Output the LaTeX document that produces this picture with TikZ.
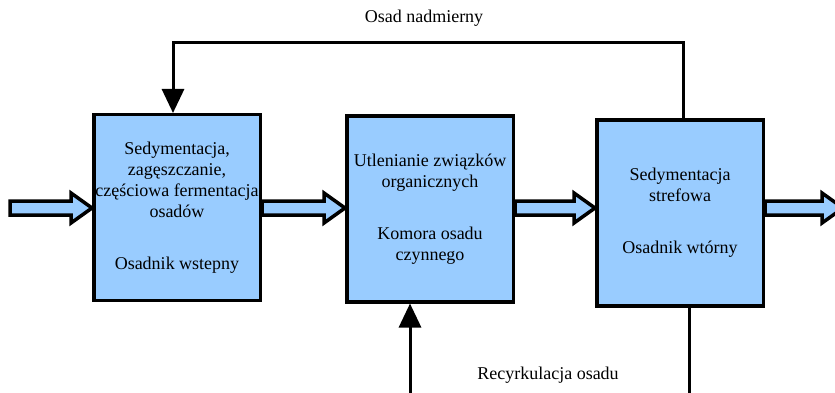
\documentclass[tikz,border=0pt]{standalone}
\usepackage{fontspec}
\setmainfont{Liberation Serif}
\usetikzlibrary{calc,arrows.meta}
\definecolor{boxblue}{RGB}{153,204,255}
\tikzset{
  procbox/.style={draw=black, line width=3.5pt, fill=boxblue, minimum width=166.5pt, minimum height=185.5pt,
    inner sep=0pt, align=center, font=\fontsize{18}{21}\selectfont},
  flowline/.style={draw=black, line width=3pt, -{Triangle[length=24pt,width=22pt]}},
  blockarrow/.style={draw=black, line width=3.5pt, fill=boxblue, line join=miter},
  lbl/.style={font=\fontsize{18}{21}\selectfont, inner sep=0pt}
}
\newcommand{\blockarr}[2]{%
  \path[blockarrow] ($(#1)+(0,-7)$) -- ($(#2)+(-21,-7)$) -- ($(#2)+(-21,-15)$) -- (#2)
     -- ($(#2)+(-21,15)$) -- ($(#2)+(-21,7)$) -- ($(#1)+(0,7)$) -- cycle;}
\begin{document}
\begin{tikzpicture}[x=1pt,y=-1pt]
\useasboundingbox (0,0) rectangle (835,393);
\node[procbox] (b1) at (177,207.5) {Sedymentacja,\\zagęszczanie,\\częściowa fermentacja\\osadów\\[31pt]Osadnik wstepny};
\node[procbox] (b2) at (430,209) {Utlenianie związków\\organicznych\\[31pt]Komora osadu\\czynnego};
\node[procbox] (b3) at (680,213) {Sedymentacja\\strefowa\\[31pt]Osadnik wtórny};
% block arrows
\coordinate (in) at (10,208);
\coordinate (b1w) at (b1.west |- in);
\coordinate (b1e) at (b1.east |- in);
\coordinate (b2w) at (b2.west |- in);
\coordinate (b2e) at (b2.east |- in);
\coordinate (b3w) at (b3.west |- in);
\coordinate (b3e) at (b3.east |- in);
\coordinate (out) at (843,208);
\blockarr{in}{b1w}
\blockarr{b1e}{b2w}
\blockarr{b2e}{b3w}
\blockarr{b3e}{out}
% excess sludge
\coordinate (t3) at (b3.north -| 683,0);
\coordinate (t1) at (b1.north -| 173,0);
\coordinate (top) at (0,43);
\draw[flowline] (t3) -- (t3 |- top) -- (t1 |- top) -- (t1);
\node[lbl] (l1) at (424,18) {Osad nadmierny};
% recirculation
\coordinate (s3) at (b3.south -| 689,0);
\coordinate (s2) at (b2.south -| 410,0);
\coordinate (bot) at (0,394);
\draw[flowline] (s3) -- (s3 |- bot) -- (s2 |- bot) -- (s2);
\node[lbl] (l2) at (548,375) {Recyrkulacja osadu};
\end{tikzpicture}
\end{document}
